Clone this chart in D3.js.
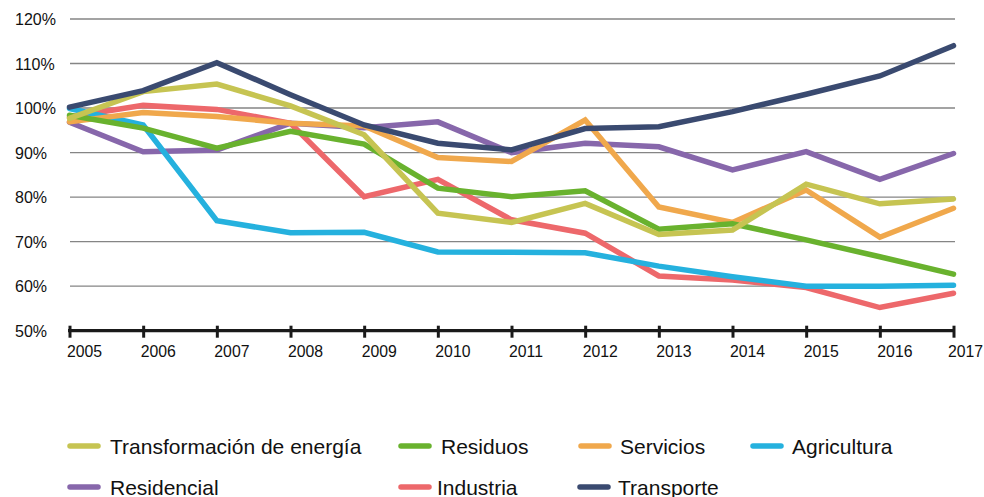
<!DOCTYPE html>
<html>
<head>
<meta charset="utf-8">
<script src="https://cdn.jsdelivr.net/npm/d3@7"></script>
<style>
  body { margin: 0; background: #fff; }
  svg { display: block; font-family: "Liberation Sans", Arial, sans-serif; }
</style>
</head>
<body>
<svg id="chart"></svg>
<script>
const years = [2005, 2006, 2007, 2008, 2009, 2010, 2011, 2012, 2013, 2014, 2015, 2016, 2017];
const yTicks = [50, 60, 70, 80, 90, 100, 110, 120];

const names = ["Transformación de energía", "Residuos", "Servicios", "Agricultura", "Residencial", "Industria", "Transporte"];
const colors = ["#c6c452", "#69b22e", "#f0a84c", "#25b1de", "#8767ab", "#ed686b", "#3a4a70"];

const transformacion = [97.7, 103.7, 105.4, 100.5, 94.0, 76.4, 74.3, 78.6, 71.6, 72.6, 82.9, 78.5, 79.6];
const residuos = [98.4, 95.5, 91.0, 94.8, 91.9, 82.0, 80.1, 81.4, 72.8, 74.0, 70.4, 66.6, 62.7];
const servicios = [96.9, 99.0, 98.1, 96.6, 96.0, 88.9, 88.0, 97.3, 77.8, 74.3, 81.6, 71.0, 77.5];
const agricultura = [99.9, 96.2, 74.7, 72.0, 72.1, 67.7, 67.6, 67.5, 64.5, 62.1, 60.0, 60.0, 60.2];
const residencial = [96.8, 90.2, 90.6, 96.6, 95.6, 96.9, 90.0, 92.1, 91.3, 86.1, 90.2, 84.0, 89.8];
const industria = [98.0, 100.6, 99.7, 96.6, 80.1, 84.0, 74.9, 71.9, 62.3, 61.4, 59.7, 55.2, 58.4];
const transporte = [100.2, 103.9, 110.2, 103.0, 96.2, 92.1, 90.6, 95.4, 95.8, 99.2, 103.1, 107.2, 114.0];

const seriesValues = [transformacion, residuos, servicios, agricultura, residencial, industria, transporte];

const width = 984;
const height = 497;
const svg = d3.select("#chart").attr("width", width).attr("height", height);

const x = d3.scalePoint().domain(years).range([69.5, 953.5]);
const y = d3.scaleLinear().domain([50, 120]).range([330.7, 19]);

// gridlines
svg.append("g")
    .selectAll("line")
    .data(yTicks.filter((d) => d > 50))
    .enter()
    .append("line")
    .attr("x1", 70)
    .attr("x2", 955)
    .attr("y1", (d) => y(d))
    .attr("y2", (d) => y(d))
    .attr("stroke", "#858585")
    .attr("stroke-width", 1.4);

// y labels
svg.append("g")
    .selectAll("text")
    .data(yTicks)
    .enter()
    .append("text")
    .attr("x", 15)
    .attr("y", (d) => y(d) + 6)
    .attr("font-size", 16)
    .attr("fill", "#111")
    .text((d) => d + "%");

// x axis
const axisX = d3.axisBottom(x).tickSize(0).tickFormat("");
const gx = svg.append("g")
    .attr("transform", `translate(0, ${y(50)})`)
    .call(axisX);
gx.select(".domain")
    .attr("d", `M68,0H955`)
    .attr("stroke", "#1a1a1a")
    .attr("stroke-width", 3.2);
gx.selectAll(".tick line")
    .attr("y1", -5)
    .attr("y2", 7)
    .attr("stroke", "#1a1a1a")
    .attr("stroke-width", 3);

svg.append("g")
    .selectAll("text")
    .data(years)
    .enter()
    .append("text")
    .attr("x", (d) => Math.min(x(d) - 2.5, 948))
    .attr("y", 356.5)
    .attr("font-size", 15.8)
    .attr("fill", "#111")
    .text((d) => d);

// lines
const line = d3.line()
    .x((d, i) => x(years[i]))
    .y((d) => y(d));

const drawOrder = [4, 5, 3, 2, 1, 0, 6];
drawOrder.forEach((k) => {
    svg.append("path")
        .datum(seriesValues[k])
        .attr("d", line)
        .attr("fill", "none")
        .attr("stroke", colors[k])
        .attr("stroke-width", 5.5)
        .attr("stroke-linejoin", "miter")
        .attr("stroke-linecap", "round");
});

// legend
const legendX = [67, 398, 578, 750, 67, 398, 577];
const legendTextX = [110, 441, 620, 792, 110, 437, 618];
const legendRow = [0, 0, 0, 0, 1, 1, 1];
const legend = svg.append("g");
names.forEach((name, k) => {
    const ly = 446 + legendRow[k] * 41;
    legend.append("line")
        .attr("x1", legendX[k] + 3)
        .attr("x2", legendX[k] + 31)
        .attr("y1", ly)
        .attr("y2", ly)
        .attr("stroke", colors[k])
        .attr("stroke-width", 5.5)
        .attr("stroke-linecap", "round");
    legend.append("text")
        .attr("x", legendTextX[k])
        .attr("y", ly + 7.5)
        .attr("font-size", 21)
        .attr("fill", "#111")
        .text(name);
});
</script>
</body>
</html>
